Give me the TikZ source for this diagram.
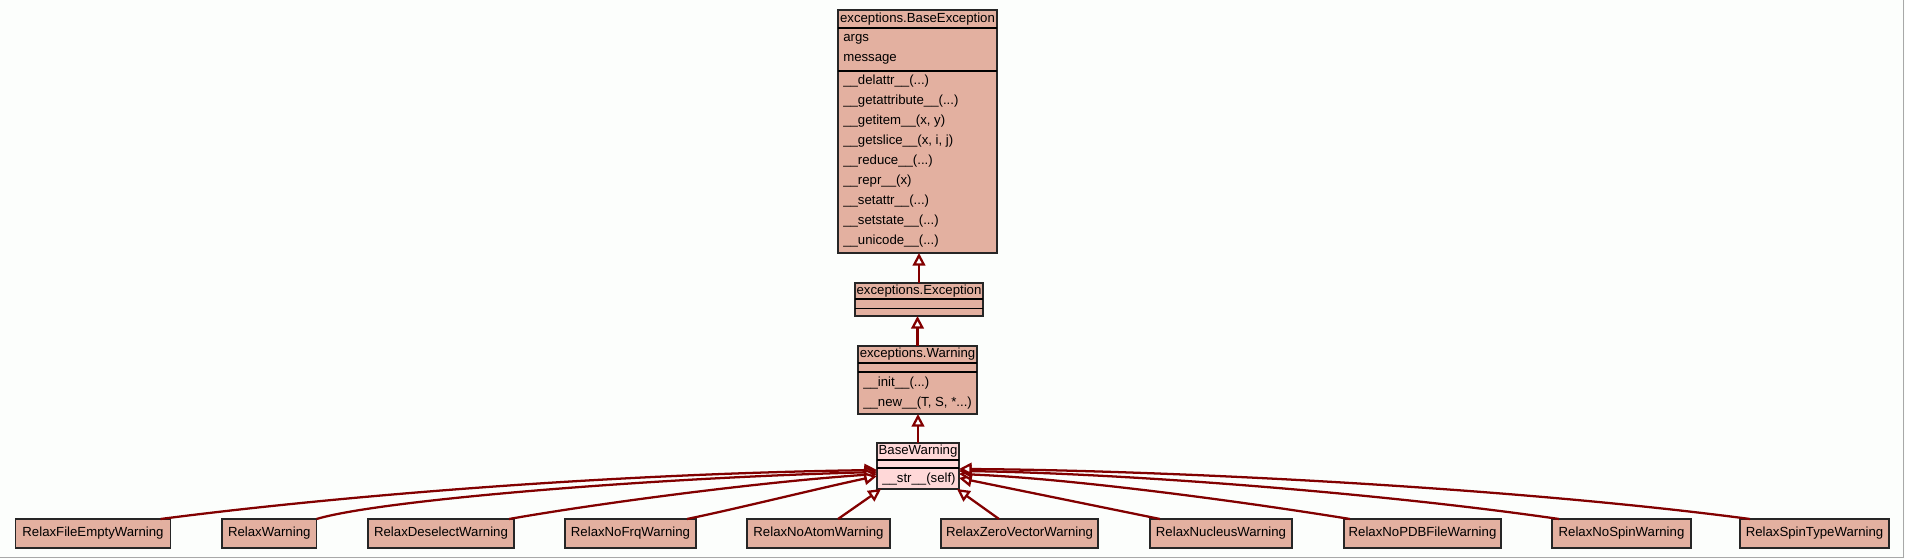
\documentclass[tikz,border=0pt]{standalone}
\usepackage{fontspec}
\setmainfont{Liberation Sans}
\usetikzlibrary{arrows.meta,calc}
\definecolor{bg}{HTML}{FCFEFC}
\definecolor{boxfill}{HTML}{E3B0A0}
\definecolor{bwfill}{HTML}{FFD8D8}
\definecolor{edgec}{HTML}{820000}
\definecolor{framec}{HTML}{A8A8A8}
\begin{document}
\begin{tikzpicture}[x=0.75pt,y=-0.75pt,
  box/.style={draw=black!85, line width=1.3pt, fill=boxfill, inner sep=0pt, outer sep=0pt},
  leaf/.style={box, minimum height=29*0.75pt, font=\fontsize{9.9}{11}\selectfont},
  txt/.style={inner sep=0pt, font=\fontsize{9.9}{11}\selectfont},
  item/.style={txt, anchor=west},
  sep/.style={draw=black, line width=1.3pt},
  inh/.style={draw=edgec, line width=1.7pt, -{Triangle[fill=white,length=9.5pt,width=9.5pt]}}]
% background and frame
\fill[bg] (0,0) rectangle (1905,559);
\useasboundingbox (0,0) rectangle (1905,559);
\draw[framec, line width=1.2pt] (0,557.5) -- (1903.5,557.5) -- (1903.5,0);

% exceptions.BaseException
\node[box, minimum width=159*0.75pt, minimum height=243*0.75pt] (be) at (917.5,131.5) {};
\node[txt] (beT) at (917.5,19) {exceptions.BaseException};
\draw[sep] (be.west |- 0,28) -- (be.east |- 0,28);
\draw[sep] (be.west |- 0,71) -- (be.east |- 0,71);
\node[item] (beA1) at (843,39) {args};
\node[item] (beA2) at (843,59) {message};
\node[item] (beM1) at (843,81) {\_\_delattr\_\_(...)};
\node[item] (beM2) at (843,101) {\_\_getattribute\_\_(...)};
\node[item] (beM3) at (843,121) {\_\_getitem\_\_(x, y)};
\node[item] (beM4) at (843,141) {\_\_getslice\_\_(x, i, j)};
\node[item] (beM5) at (843,161) {\_\_reduce\_\_(...)};
\node[item] (beM6) at (843,181) {\_\_repr\_\_(x)};
\node[item] (beM7) at (843,201) {\_\_setattr\_\_(...)};
\node[item] (beM8) at (843,221) {\_\_setstate\_\_(...)};
\node[item] (beM9) at (843,241) {\_\_unicode\_\_(...)};

% exceptions.Exception
\node[box, minimum width=128*0.75pt, minimum height=33*0.75pt] (ex) at (919,299.5) {};
\node[txt] (exT) at (919,291) {exceptions.Exception};
\draw[sep] (ex.west |- 0,299) -- (ex.east |- 0,299);
\draw[sep] (ex.west |- 0,308.5) -- (ex.east |- 0,308.5);

% exceptions.Warning
\node[box, minimum width=119*0.75pt, minimum height=68*0.75pt] (wa) at (917.5,380) {};
\node[txt] (waT) at (917.5,354.5) {exceptions.Warning};
\draw[sep] (wa.west |- 0,363) -- (wa.east |- 0,363);
\draw[sep] (wa.west |- 0,372) -- (wa.east |- 0,372);
\node[item] (waM1) at (863,383) {\_\_init\_\_(...)};
\node[item] (waM2) at (863,403) {\_\_new\_\_(T, S, *...)};

% BaseWarning
\node[box, fill=bwfill, minimum width=82*0.75pt, minimum height=46*0.75pt] (bw) at (918,466) {};
\node[txt] (bwT) at (918,451.5) {BaseWarning};
\draw[sep] (bw.west |- 0,460) -- (bw.east |- 0,460);
\draw[sep] (bw.west |- 0,468) -- (bw.east |- 0,468);
\node[item] (bwM1) at (882,479) {\_\_str\_\_(self)};

% leaf classes
\node[leaf, minimum width=155*0.75pt] (fe) at (93,533.5) {RelaxFileEmptyWarning};
\node[leaf, minimum width=94.5*0.75pt] (rw) at (269.25,533.5) {RelaxWarning};
\node[leaf, minimum width=146*0.75pt] (ds) at (441,533.5) {RelaxDeselectWarning};
\node[leaf, minimum width=131*0.75pt] (nf) at (630.5,533.5) {RelaxNoFrqWarning};
\node[leaf, minimum width=143*0.75pt] (na) at (818.5,533.5) {RelaxNoAtomWarning};
\node[leaf, minimum width=157*0.75pt] (zv) at (1019.5,533.5) {RelaxZeroVectorWarning};
\node[leaf, minimum width=142*0.75pt] (nu) at (1221,533.5) {RelaxNucleusWarning};
\node[leaf, minimum width=157*0.75pt] (np) at (1422.5,533.5) {RelaxNoPDBFileWarning};
\node[leaf, minimum width=139*0.75pt] (ns) at (1621.5,533.5) {RelaxNoSpinWarning};
\node[leaf, minimum width=149*0.75pt] (st) at (1814.5,533.5) {RelaxSpinTypeWarning};

% inheritance edges (chain)
\draw[inh] (ex.north) -- (ex.north |- be.south);
\draw[inh] (wa.north) -- (wa.north |- ex.south);
\draw[inh] (bw.north) -- (bw.north |- wa.south);

% left fan
\draw[inh] ($(fe.north east)+(-10,0)$) .. controls (330,497) and (600,474) .. ($(bw.north west)+(0,27)$);
\draw[inh] (rw.north east) .. controls (380,500) and (650,478) .. ($(bw.north west)+(0,29)$);
\draw[inh] ($(ds.north east)+(-5,0)$) .. controls (600,503) and (760,482) .. ($(bw.north west)+(0,31)$);
\draw[inh] ($(nf.north east)+(-9,0)$) .. controls (740,508) and (820,488) .. ($(bw.north west)+(0,33)$);
\draw[inh] ($(na.north)+(19.5,0)$) -- ($(bw.south west)+(4,0)$);
% right fan
\draw[inh] ($(zv.north)+(-20.5,0)$) -- ($(bw.south east)+(-2,0)$);
\draw[inh] ($(nu.north west)+(10,0)$) -- ($(bw.north east)+(0,35)$);
\draw[inh] ($(np.north west)+(6,0)$) .. controls (1220,498) and (1060,478) .. ($(bw.north east)+(0,31)$);
\draw[inh] ($(ns.north west)+(7,0)$) .. controls (1380,493) and (1120,473) .. ($(bw.north east)+(0,28)$);
\draw[inh] ($(st.north west)+(10,0)$) .. controls (1500,486) and (1150,470) .. ($(bw.north east)+(0,26)$);
\end{tikzpicture}
\end{document}
